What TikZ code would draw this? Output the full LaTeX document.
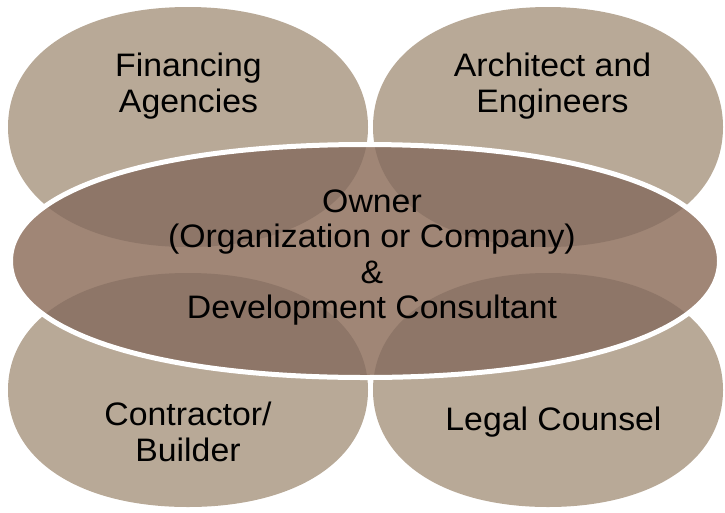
\documentclass[tikz,border=0pt]{standalone}
\usepackage{fontspec}
\setmainfont{Liberation Sans}[FakeStretch=1.04]
\definecolor{circ}{RGB}{184,169,151}
\definecolor{ell}{RGB}{160,134,118}
\definecolor{ovl}{RGB}{142,118,104}
% #1 options, #2 cx, #3 cy, #4 rx, #5 ry
\newcommand\myblob[5]{%
  \path[#1] ({#2+#4},#3)
    .. controls ({#2+#4},{#3+0.6*#5}) and ({#2+0.6*#4},{#3+#5}) .. (#2,{#3+#5})
    .. controls ({#2-0.6*#4},{#3+#5}) and ({#2-#4},{#3+0.6*#5}) .. ({#2-#4},#3)
    .. controls ({#2-#4},{#3-0.6*#5}) and ({#2-0.6*#4},{#3-#5}) .. (#2,{#3-#5})
    .. controls ({#2+0.6*#4},{#3-#5}) and ({#2+#4},{#3-0.6*#5}) .. cycle;}
\begin{document}
\begin{tikzpicture}[x=1pt,y=-1pt,
  lbl/.style={align=center, font=\fontsize{32.5}{36}\selectfont, text=black, inner sep=0pt},
  lblc/.style={lbl, font=\fontsize{32.5}{35.3}\selectfont}]
\useasboundingbox (0,0) rectangle (725,512);
% outer shapes
\myblob{fill=circ}{188}{127}{180}{120}
\myblob{fill=circ}{548}{127}{175}{120}
\myblob{fill=circ}{188}{390}{180}{117}
\myblob{fill=circ}{548}{390}{175}{117}
% central shape
\myblob{fill=ell}{365}{261}{354.5}{116.5}
\begin{scope}
  \myblob{clip}{365}{261}{354.5}{116.5}
  \myblob{fill=ovl}{188}{127}{180}{120}
  \myblob{fill=ovl}{548}{127}{175}{120}
  \myblob{fill=ovl}{188}{390}{180}{117}
  \myblob{fill=ovl}{548}{390}{175}{117}
\end{scope}
\myblob{draw=white, line width=5pt}{365}{261}{354.5}{116.5}
% labels
\node[lbl] (fin) at (188.5,86) {Financing\\Agencies};
\node[lbl] (arch) at (552.5,86) {Architect and\\Engineers};
\node[lblc] (own) at (372,257.4) {Owner\\(Organization or Company)\\\&\\Development Consultant};
\node[lbl] (con) at (188,432.3) {Contractor/\\Builder};
\node[lbl] (leg) at (553.5,422.5) {Legal Counsel};
\end{tikzpicture}
\end{document}
